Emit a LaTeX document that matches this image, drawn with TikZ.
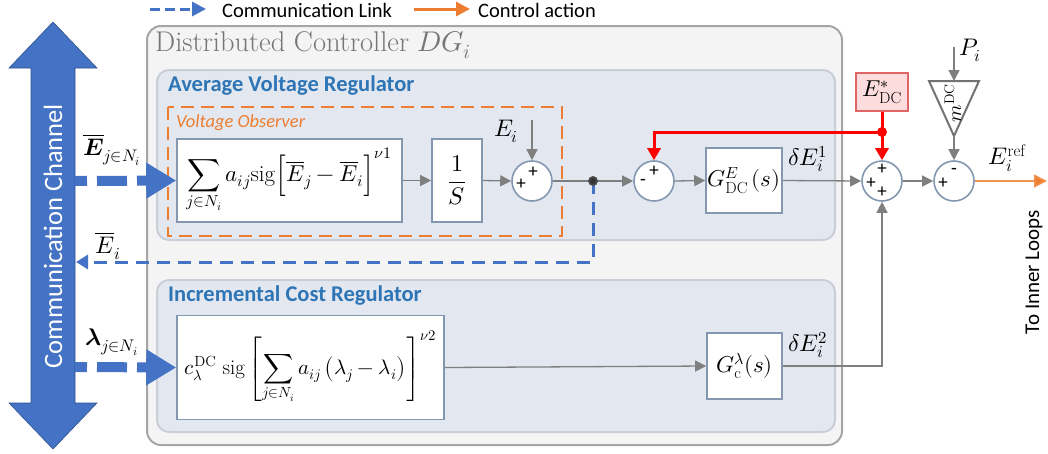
\documentclass[tikz,border=0pt]{standalone}
\usepackage{fontspec}
\usepackage{unicode-math}
\setmathfont{Latin Modern Math}
\newfontfamily\calib{Carlito}
\usetikzlibrary{arrows.meta,calc}

\definecolor{commblue}{HTML}{4472C4}
\definecolor{commdark}{HTML}{2F528F}
\definecolor{actorange}{HTML}{ED7D31}
\definecolor{sigray}{HTML}{7F7F7F}
\definecolor{blkline}{HTML}{8497B0}
\definecolor{outerfill}{HTML}{F4F4F4}
\definecolor{outerline}{HTML}{A5A5A5}
\definecolor{innerfill}{HTML}{E3E8F0}
\definecolor{innerline}{HTML}{CACFD7}
\definecolor{headblue}{HTML}{2E75B6}
\definecolor{reffill}{HTML}{FCDCDC}
\definecolor{refline}{HTML}{E06666}
\definecolor{titlegray}{HTML}{767676}

\begin{document}
\begin{tikzpicture}[x=1pt,y=-1pt,
  blk/.style={draw=blkline, fill=white, line width=1.6pt, inner sep=0pt},
  sumc/.style={circle, draw=blkline, fill=white, line width=1.6pt, minimum size=40pt, inner sep=0pt},
  sig/.style={draw=sigray, line width=1.3pt, -{Triangle[length=11pt,width=11pt]}},
  sigline/.style={draw=sigray, line width=1.3pt},
  redsig/.style={draw=red, line width=3pt, -{Triangle[length=12pt,width=13pt]}},
  redline/.style={draw=red, line width=3pt},
  commthick/.style={draw=commblue, line width=10pt, dash pattern=on 30pt off 10pt, dash phase=18pt,
    -{Triangle[length=30pt,width=34pt]}},
  commthin/.style={draw=commblue, line width=3pt, dash pattern=on 13pt off 8pt,
    -{Triangle[length=12pt,width=14pt]}},
  sgn/.style={font=\calib\fontsize{19}{19}\selectfont, inner sep=0pt},
  mlab/.style={font=\fontsize{24}{28}\selectfont, inner sep=0pt},
  blkhead/.style={font=\calib\bfseries\fontsize{22.5}{26}\selectfont, text=headblue, anchor=west, inner sep=0pt},
  legtext/.style={font=\calib\fontsize{20.5}{24}\selectfont, anchor=west, inner sep=0pt}
]
\useasboundingbox (0,0) rectangle (1048,453);

% ---------- legend ----------
\coordinate (lgA) at (150,9);
\coordinate (lgB) at (206,9);
\draw[commblue, line width=3pt, dash pattern=on 10pt off 5pt, -{Triangle[length=14pt,width=14pt]}] (lgA) -- (lgB);
\node[legtext] (lgCL) at (222,10) {Communication Link};
\coordinate (lgC) at (414,9);
\coordinate (lgD) at (470,9);
\draw[actorange, line width=3pt, -{Triangle[length=14pt,width=14pt]}] (lgC) -- (lgD);
\node[legtext] (lgCA) at (478,10) {Control action};

% ---------- communication channel (double arrow) ----------
\fill[commblue, draw=commdark, line width=0.6pt]
  (53,22) -- (97,68) -- (75,68) -- (75,403) -- (97,403) -- (53,449)
  -- (9,403) -- (31,403) -- (31,68) -- (9,68) -- cycle;
\node[rotate=90, text=white, font=\calib\fontsize{26.5}{30}\selectfont] (chan) at (53,236) {Communication Channel};

% ---------- containers ----------
\draw[fill=outerfill, draw=outerline, line width=2pt, rounded corners=14pt] (147,26) rectangle (842,445);
\node[anchor=west, text=titlegray, font=\fontsize{28.5}{32}\selectfont, inner sep=0pt] (dctitle) at (155,45)
  {Distributed Controller $DG_i$};

\draw[fill=innerfill, draw=innerline, line width=2pt, rounded corners=12pt] (157,70) rectangle (835,240);
\node[blkhead] (avgtitle) at (168,86) {Average Voltage Regulator};

\draw[fill=innerfill, draw=innerline, line width=2pt, rounded corners=12pt] (157,280) rectangle (835,432);
\node[blkhead] (inctitle) at (168,296) {Incremental Cost Regulator};

\draw[actorange, line width=2pt, dash pattern=on 13pt off 7pt] (168,107) rectangle (562,236);
\node[anchor=west, text=actorange, font=\calib\itshape\fontsize{18.5}{21}\selectfont, inner sep=0pt] (obstitle) at (176,123)
  {Voltage Observer};

% ---------- blocks ----------
\node[blk, minimum width=225pt, minimum height=83pt] (obs) at (289.5,180.5)
  {\fontsize{23}{26}\selectfont$\displaystyle\sum_{j\in N_i} a_{ij}\mathrm{sig}\Bigl[\overline{E}_j-\overline{E}_i\Bigr]^{\nu 1}$};
\node[blk, minimum width=50pt, minimum height=83pt] (integ) at (457,180.5)
  {\fontsize{24}{28}\selectfont$\dfrac{1}{S}$};
\node[sumc] (s1) at (532,181) {};
\node[sumc] (s2) at (654,181) {};
\node[blk, minimum width=76pt, minimum height=65pt] (gdc) at (744,180.5)
  {\fontsize{23}{26}\selectfont$G^{E}_{\mathrm{DC}}\,(s)$};
\node[sumc] (s3) at (882,181) {};
\node[sumc] (s4) at (954,181) {};
\node[draw=refline, fill=reffill, line width=1.8pt, minimum width=52pt, minimum height=38pt, inner sep=0pt] (edc) at (882,92)
  {\fontsize{23}{26}\selectfont$E^{*}_{\mathrm{DC}}$};

\node[blk, minimum width=267pt, minimum height=104pt] (lam) at (310.5,367.5)
  {\fontsize{21}{24}\selectfont$c_\lambda^{\mathrm{DC}}\ \mathrm{sig}\left[\displaystyle\sum_{j\in N_i} a_{ij}\left(\lambda_j-\lambda_i\right)\right]^{\nu 2}$};
\node[blk, minimum width=75pt, minimum height=66pt] (gc) at (744.5,366)
  {\fontsize{23}{26}\selectfont$G_{\mathrm{c}}^{\lambda}(s)$};

% droop gain triangle
\coordinate (triL) at (929,81);
\coordinate (triR) at (979,81);
\coordinate (triTop) at (954,81);
\coordinate (triTip) at (954,136);
\draw[draw=sigray!90!black, fill=white, line width=2pt] (triL) -- (triR) -- (triTip) -- cycle;
\node[rotate=90, font=\fontsize{20}{22}\selectfont, inner sep=0pt] (mdc) at (953,103) {$m^{\mathrm{DC}}$};

% ---------- signs at the summing junctions ----------
\node[sgn] (s1a) at ($(s1)+(-11,3)$) {+};
\node[sgn] (s1b) at ($(s1)+(1,-9)$) {+};
\node[sgn] (s2a) at ($(s2)+(-11,1)$) {-};
\node[sgn] (s2b) at ($(s2)+(0,-10)$) {+};
\node[sgn] (s3a) at ($(s3)+(-11,2)$) {+};
\node[sgn] (s3b) at ($(s3)+(0,-12)$) {+};
\node[sgn] (s3c) at ($(s3)+(0,11)$) {+};
\node[sgn] (s4a) at ($(s4)+(-11,2)$) {+};
\node[sgn] (s4b) at ($(s4)+(0,-10)$) {-};

% ---------- signal connections ----------
\draw[sig] (obs.east) -- (integ.west);
\draw[sig] (integ.east) -- (s1.west);
\coordinate (eiTop) at (532,120);
\draw[sig] (eiTop) -- (s1.north);
\node[mlab] (eilab) at (506,131) {$E_i$};

\coordinate (tap) at (593,181);
\draw[sig] (s1.east) -- (s2.west);
\draw[sig] (s2.east) -- (gdc.west);
\draw[sig] (gdc.east) -- (s3.west);
\node[mlab] (de1) at (808,159) {$\delta E_i^{1}$};
\draw[sig] (s3.east) -- (s4.west);

\draw[sig] (lam.east) -- (gc.west);
\coordinate (gcCorner) at (882,366);
\draw[sig] (gc.east) -- (gcCorner) -- (s3.south);
\node[mlab] (de2) at (808,345) {$\delta E_i^{2}$};

\coordinate (pTop) at (954,47);
\draw[sig] (pTop) -- (triTop);
\node[mlab] (plab) at (970,50) {$P_i$};
\draw[sig] (triTip) -- (s4.north);

\coordinate (outEnd) at (1047,181);
\draw[actorange!85!white, line width=1.6pt, -{Triangle[length=13pt,width=13pt, fill=actorange]}] (s4.east) -- (outEnd);
\node[mlab] (eref) at (1007,158) {$E_i^{\mathrm{ref}}$};
\node[rotate=90, font=\calib\fontsize{21}{24}\selectfont, inner sep=0pt] (inner) at (1034,272) {To Inner Loops};

% reference voltage (red)
\coordinate (redTap) at (882,132);
\coordinate (redCorner) at (654,132);
\draw[redline] (edc.south) -- (redTap);
\draw[redsig] (redTap) -- (s3.north);
\draw[redsig] (redTap) -- (redCorner) -- (s2.north);
\fill[red] (redTap) circle (5pt);

% ---------- communication links ----------
\coordinate (chE) at (75,181);
\coordinate (chL) at (75,367);
\coordinate (chR) at (76,262);
\coordinate (tapDown) at (593,262);
\draw[commthick] (chE) -- (obs.west);
\draw[commthick] (chL) -- (lam.west);
\draw[commthin] (tap) -- (tapDown) -- (chR);
\fill[sigray!60!black] (tap) circle (5pt);
\fill[sigray!40!black] (tap) circle (3pt);

\node[mlab] (ejlab) at (112,150) {$\overline{\symbfit{E}}_{j\in N_i}$};
\node[mlab] (eibar) at (108,246) {$\overline{E}_i$};
\node[mlab] (lamlab) at (112,342) {$\symbfit{\lambda}_{j\in N_i}$};
\end{tikzpicture}
\end{document}
